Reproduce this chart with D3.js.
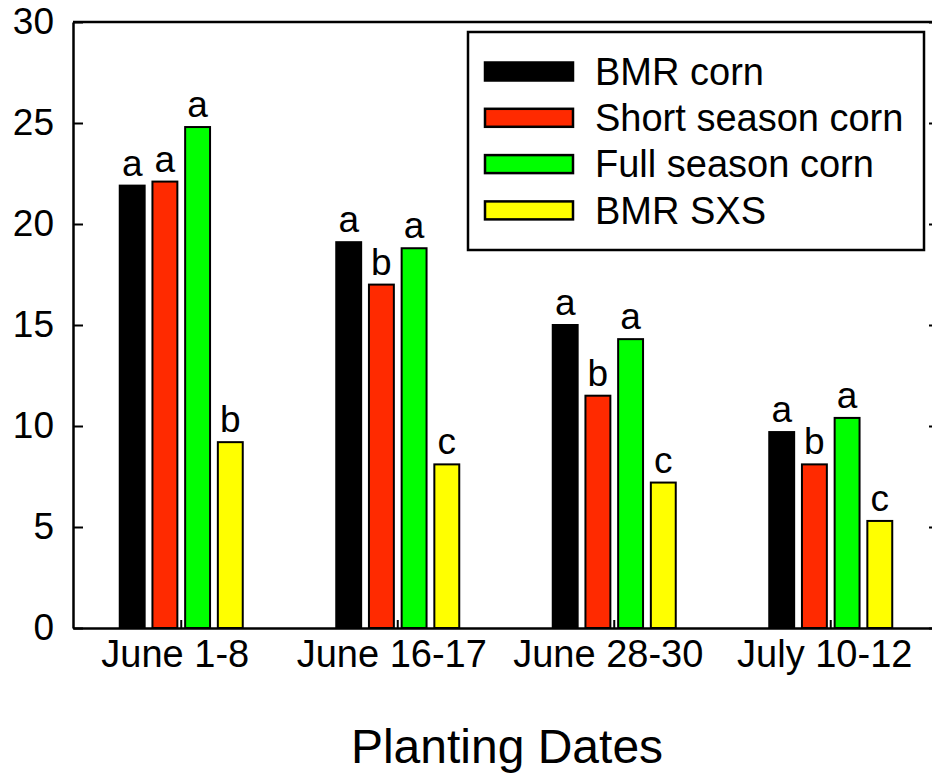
<!DOCTYPE html>
<html>
<head>
<meta charset="utf-8">
<script src="https://cdn.jsdelivr.net/npm/d3@7"></script>
<style>
  body { margin: 0; background: #fff; }
  text { font-family: "Liberation Sans", Arial, sans-serif; fill: #000; }
</style>
</head>
<body>
<div class="container"></div>
<script>
const WIDTH = 932;
const HEIGHT = 774;
const LEFT = 73;
const RIGHT = 939;
const TOP = 22;
const BOTTOM = 628;

var dates = ["June 1-8", "June 16-17", "June 28-30", "July 10-12"];
var seriesNames = ["BMR corn", "Short season corn", "Full season corn", "BMR SXS"];
var seriesColors = ["#000000", "#ff2a00", "#00ff00", "#ffff00"];

var bmrCorn = [21.9, 19.1, 15.0, 9.7];
var shortSeason = [22.1, 17.0, 11.5, 8.1];
var fullSeason = [24.8, 18.8, 14.3, 10.4];
var bmrSxs = [9.2, 8.1, 7.2, 5.3];

var bmrCornLetters = ["a", "a", "a", "a"];
var shortSeasonLetters = ["a", "b", "b", "b"];
var fullSeasonLetters = ["a", "a", "a", "a"];
var bmrSxsLetters = ["b", "c", "c", "c"];

var yTicks = [0, 5, 10, 15, 20, 25, 30];

var allValues = [bmrCorn, shortSeason, fullSeason, bmrSxs];
var allLetters = [bmrCornLetters, shortSeasonLetters, fullSeasonLetters, bmrSxsLetters];

var translate = function (x, y) {
    return "translate(" + x + "," + y + ")";
};

var _x0 = d3.scaleBand()
    .domain(dates)
    .range([LEFT, RIGHT]);

var GROUP_W = 125;
var _x1 = d3.scaleBand()
    .domain(seriesNames)
    .range([(_x0.bandwidth() - GROUP_W) / 2, (_x0.bandwidth() + GROUP_W) / 2])
    .paddingInner(0.177);

var _yScale = d3.scaleLinear()
    .domain([0, 30])
    .range([BOTTOM, TOP]);

var rows = [];
dates.forEach(function (d, i) {
    seriesNames.forEach(function (s, j) {
        rows.push({ date: d, series: s, idx: j, value: allValues[j][i], letter: allLetters[j][i] });
    });
});

var loadChart = function () {
    var svg = d3.select('.container').append('svg')
        .attr('width', WIDTH)
        .attr('height', HEIGHT);

    // top frame line
    svg.append('line')
        .attr('x1', LEFT).attr('x2', RIGHT)
        .attr('y1', TOP).attr('y2', TOP)
        .attr('stroke', '#000').attr('stroke-width', 2.5);

    // left axis
    var yAxis = d3.axisLeft(_yScale).tickValues(yTicks).tickSizeInner(-10).tickSizeOuter(0).tickPadding(19);
    var gy = svg.append('g').attr('transform', translate(LEFT, 0)).call(yAxis);
    gy.select('.domain').attr('stroke-width', 2.5);
    gy.selectAll('.tick line').attr('stroke-width', 2);
    gy.selectAll('.tick text').attr('font-size', 37).attr('font-family', '"Liberation Sans", Arial, sans-serif');

    // right axis (mostly off canvas)
    var yAxisR = d3.axisRight(_yScale).tickValues(yTicks).tickSizeInner(-10).tickSizeOuter(0).tickFormat('');
    var gr = svg.append('g').attr('transform', translate(RIGHT, 0)).call(yAxisR);
    gr.select('.domain').attr('stroke-width', 2.5);
    gr.selectAll('.tick line').attr('stroke-width', 2);

    // bottom axis
    var xAxis = d3.axisBottom(_x0).tickSizeInner(-8).tickSizeOuter(0).tickFormat('');
    var gx = svg.append('g').attr('transform', translate(0, BOTTOM)).call(xAxis);
    gx.select('.domain').attr('stroke-width', 2.5);
    gx.selectAll('.tick line').attr('stroke-width', 2);

    svg.selectAll('.xlabel')
        .data(dates)
        .enter().append('text')
        .attr('class', 'xlabel')
        .attr('x', function (d) { return _x0(d) + _x0.bandwidth() / 2 - 6; })
        .attr('y', 667)
        .attr('text-anchor', 'middle')
        .attr('font-size', 38)
        .text(function (d) { return d; });

    var bar = svg.append('g').selectAll('.bar')
        .data(rows)
        .enter().append('g')
        .attr('class', 'bar')
        .attr('transform', function (d) {
            return translate(_x0(d.date) + _x1(d.series), 0);
        });

    bar.append('rect')
        .attr('x', 1)
        .attr('y', function (d) { return _yScale(d.value); })
        .attr('width', _x1.bandwidth() - 2)
        .attr('height', function (d) { return BOTTOM - _yScale(d.value); })
        .attr('fill', function (d) { return seriesColors[d.idx]; })
        .attr('stroke', '#000')
        .attr('stroke-width', 2);

    bar.append('text')
        .attr('x', _x1.bandwidth() / 2)
        .attr('y', function (d) { return _yScale(d.value) - 10; })
        .attr('text-anchor', 'middle')
        .attr('font-size', 37)
        .text(function (d) { return d.letter; });

    // legend
    var legend = svg.append('g');
    legend.append('rect')
        .attr('x', 468).attr('y', 32)
        .attr('width', 456).attr('height', 218)
        .attr('fill', '#fff')
        .attr('stroke', '#000').attr('stroke-width', 2.5);

    var item = legend.selectAll('.item')
        .data(seriesNames)
        .enter().append('g')
        .attr('class', 'item')
        .attr('transform', function (d, i) { return translate(0, 71.5 + i * 46.3); });

    item.append('rect')
        .attr('x', 485).attr('y', -9)
        .attr('width', 88).attr('height', 18)
        .attr('fill', function (d, i) { return seriesColors[i]; })
        .attr('stroke', '#000').attr('stroke-width', 2.5);

    item.append('text')
        .attr('x', 595)
        .attr('dy', '0.35em')
        .attr('font-size', 38)
        .text(function (d) { return d; });

    svg.append('text')
        .attr('x', 507)
        .attr('y', 763)
        .attr('text-anchor', 'middle')
        .attr('font-size', 48)
        .text('Planting Dates');
};

window.onload = loadChart;
</script>
</body>
</html>
